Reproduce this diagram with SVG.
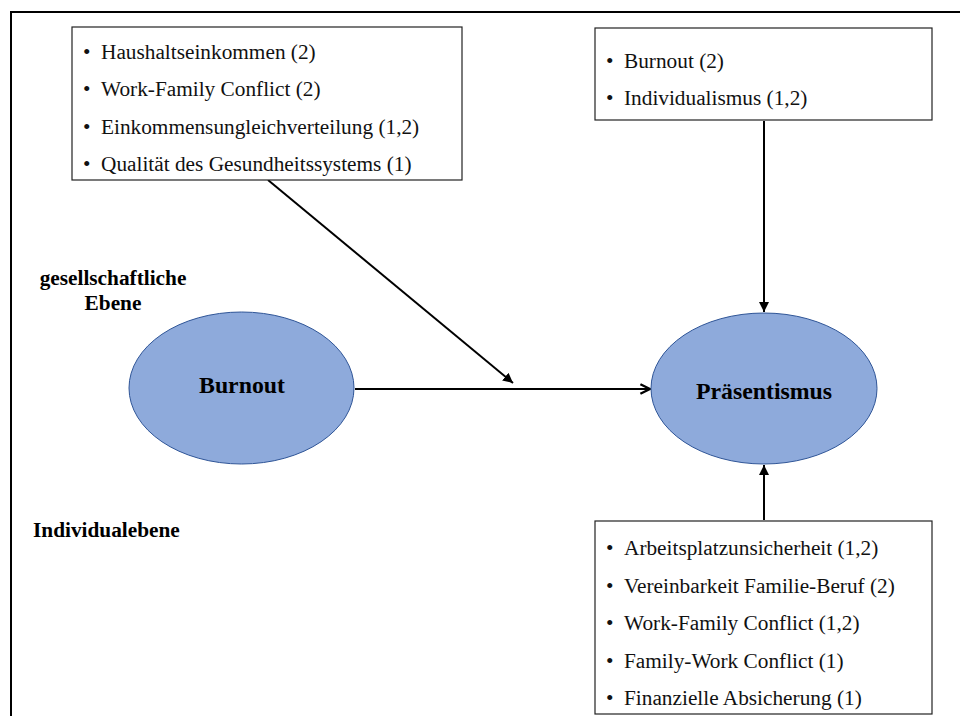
<svg xmlns="http://www.w3.org/2000/svg" width="960" height="716" viewBox="0 0 960 716">
  <style>
    .frame { fill: none; stroke: #000; stroke-width: 2; }
    .box { fill: #fff; stroke: #222; stroke-width: 1.2; }
    .item { font-family: "Liberation Serif", "Times New Roman", serif; font-size: 21.3px; fill: #111; }
    .oval { fill: #8eaadb; stroke: #2f5597; stroke-width: 1; }
    .title { font-family: "Liberation Serif", "Times New Roman", serif; font-size: 23.8px; font-weight: bold; fill: #000; text-anchor: middle; }
    .level { font-family: "Liberation Serif", "Times New Roman", serif; font-size: 21.3px; font-weight: bold; fill: #000; }
    .edge { fill: none; stroke: #000; stroke-width: 2; }
  </style>
  <defs>
    <marker id="tri" viewBox="0 0 10 10" refX="10" refY="5" markerWidth="5" markerHeight="5" orient="auto" markerUnits="strokeWidth">
      <path d="M0,0 L10,5 L0,10 z" fill="#000"/>
    </marker>
    <marker id="open" viewBox="0 0 10 10" refX="9" refY="5" markerWidth="6" markerHeight="6" orient="auto" markerUnits="strokeWidth">
      <path d="M1,1 L9,5 L1,9" fill="none" stroke="#000" stroke-width="2"/>
    </marker>
  </defs>

  <rect width="960" height="716" fill="#fff"/>
  <!-- outer frame: top and left edges -->
  <path class="frame" d="M11,716 V12 H960"/>

  <g id="connectors">
    <line class="edge" x1="268" y1="180" x2="513" y2="383" marker-end="url(#tri)"/>
    <line class="edge" x1="355" y1="389" x2="650" y2="389" marker-end="url(#open)"/>
    <line class="edge" x1="764" y1="121" x2="764" y2="312" marker-end="url(#tri)"/>
    <line class="edge" x1="764" y1="520" x2="764" y2="465" marker-end="url(#tri)"/>
  </g>

  <g id="societal-factors">
    <rect class="box" x="72" y="27" width="390" height="153"/>
    <text class="item" x="83" y="59">•</text><text class="item" x="101" y="59">Haushaltseinkommen (2)</text>
    <text class="item" x="83" y="96">•</text><text class="item" x="101" y="96">Work-Family Conflict (2)</text>
    <text class="item" x="83" y="134">•</text><text class="item" x="101" y="134">Einkommensungleichverteilung (1,2)</text>
    <text class="item" x="83" y="171">•</text><text class="item" x="101" y="171">Qualität des Gesundheitssystems (1)</text>
  </g>

  <g id="direct-factors">
    <rect class="box" x="595" y="28" width="337" height="92"/>
    <text class="item" x="606" y="68">•</text><text class="item" x="624" y="68">Burnout (2)</text>
    <text class="item" x="606" y="105">•</text><text class="item" x="624" y="105">Individualismus (1,2)</text>
  </g>

  <g id="individual-factors">
    <rect class="box" x="595" y="521" width="337" height="193"/>
    <text class="item" x="606" y="555">•</text><text class="item" x="624" y="555">Arbeitsplatzunsicherheit (1,2)</text>
    <text class="item" x="606" y="593">•</text><text class="item" x="624" y="593">Vereinbarkeit Familie-Beruf (2)</text>
    <text class="item" x="606" y="630">•</text><text class="item" x="624" y="630">Work-Family Conflict (1,2)</text>
    <text class="item" x="606" y="668">•</text><text class="item" x="624" y="668">Family-Work Conflict (1)</text>
    <text class="item" x="606" y="705">•</text><text class="item" x="624" y="705">Finanzielle Absicherung (1)</text>
  </g>

  <g id="burnout">
    <ellipse class="oval" cx="241.5" cy="388" rx="112.5" ry="76"/>
    <text class="title" x="242" y="393">Burnout</text>
  </g>

  <g id="praesentismus">
    <ellipse class="oval" cx="764" cy="388.5" rx="113" ry="75.5"/>
    <text class="title" x="764" y="399">Präsentismus</text>
  </g>

  <g id="levels">
    <text class="level" x="113" y="285" text-anchor="middle">gesellschaftliche</text>
    <text class="level" x="113" y="310" text-anchor="middle">Ebene</text>
    <text class="level" x="33" y="537">Individualebene</text>
  </g>
</svg>
